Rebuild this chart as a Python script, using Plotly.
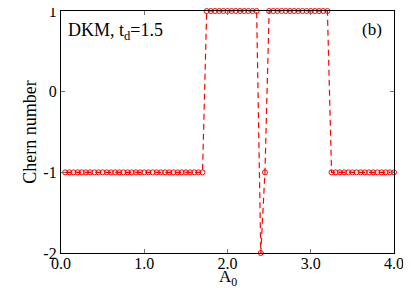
import plotly.graph_objects as go

A0 = [0.05, 0.10, 0.15, 0.20, 0.25, 0.30, 0.35, 0.40, 0.45, 0.50,
      0.55, 0.60, 0.65, 0.70, 0.75, 0.80, 0.85, 0.90, 0.95, 1.00,
      1.05, 1.10, 1.15, 1.20, 1.25, 1.30, 1.35, 1.40, 1.45, 1.50,
      1.55, 1.60, 1.65, 1.70, 1.75, 1.80, 1.85, 1.90, 1.95, 2.00,
      2.05, 2.10, 2.15, 2.20, 2.25, 2.30, 2.35, 2.40, 2.45, 2.50,
      2.55, 2.60, 2.65, 2.70, 2.75, 2.80, 2.85, 2.90, 2.95, 3.00,
      3.05, 3.10, 3.15, 3.20, 3.25, 3.30, 3.35, 3.40, 3.45, 3.50,
      3.55, 3.60, 3.65, 3.70, 3.75, 3.80, 3.85, 3.90, 3.95, 4.00]
chern = [-1, -1, -1, -1, -1, -1, -1, -1, -1, -1,
         -1, -1, -1, -1, -1, -1, -1, -1, -1, -1,
         -1, -1, -1, -1, -1, -1, -1, -1, -1, -1,
         -1, -1, -1, -1, 1, 1, 1, 1, 1, 1,
         1, 1, 1, 1, 1, 1, 1, -2, -1, 1,
         1, 1, 1, 1, 1, 1, 1, 1, 1, 1,
         1, 1, 1, 1, -1, -1, -1, -1, -1, -1,
         -1, -1, -1, -1, -1, -1, -1, -1, -1, -1]

x_ticks = [0, 1, 2, 3, 4]
x_ticklabels = ["0.0", "1.0", "2.0", "3.0", "4.0"]
y_ticks = [-2, -1, 0, 1]
y_ticklabels = ["-2", "-1", "0", "1"]

FONT = "Liberation Serif"
RED = "#ff0000"

fig = go.Figure()
fig.add_trace(go.Scatter(
    x=A0, y=chern, mode="lines+markers",
    line=dict(color=RED, width=1.2, dash="6px,4px"),
    marker=dict(symbol="circle-open", size=5, color=RED, line=dict(width=1, color=RED)),
    cliponaxis=False, showlegend=False,
))

axis_common = dict(
    showline=True, linecolor="black", linewidth=1.2, mirror="ticks",
    ticks="inside", ticklen=4, tickcolor="#777777", tickwidth=1,
    showgrid=False, zeroline=False, automargin=False,
    ticklabeloverflow="allow",
    tickfont=dict(family=FONT, size=16, color="black"),
)

fig.update_xaxes(range=[0, 4], tickvals=x_ticks, ticktext=x_ticklabels,
                 ticklabelstandoff=-4, **axis_common)
fig.update_yaxes(range=[-2, 1], tickvals=y_ticks, ticktext=y_ticklabels,
                 title=dict(text="Chern number", font=dict(family=FONT, size=18, color="black"), standoff=2),
                 **axis_common)

# x-axis title as a paper annotation so it sits just under the tick labels
fig.add_annotation(x=0.5, y=0, xref="paper", yref="paper", xanchor="center", yanchor="top",
                   yshift=-12, showarrow=False,
                   text="A<sub>0</sub>", font=dict(family=FONT, size=17, color="black"))
fig.add_annotation(x=0, y=1, xref="paper", yref="paper", xanchor="left", yanchor="top",
                   xshift=5, yshift=-7, showarrow=False,
                   text="DKM, t<sub>d</sub>=1.5", font=dict(family=FONT, size=18, color="black"))
fig.add_annotation(x=1, y=1, xref="paper", yref="paper", xanchor="right", yanchor="top",
                   xshift=-10, yshift=-7, showarrow=False,
                   text="(b)", font=dict(family=FONT, size=17, color="black"))

# page body has an 8px default margin; compensate so the plot area lands where the reference has it
fig.update_layout(width=403, height=280, margin=dict(l=53, r=17, t=3, b=35),
                  plot_bgcolor="white", paper_bgcolor="white",
                  font=dict(family=FONT, color="black"))

fig.write_html("out.html")
